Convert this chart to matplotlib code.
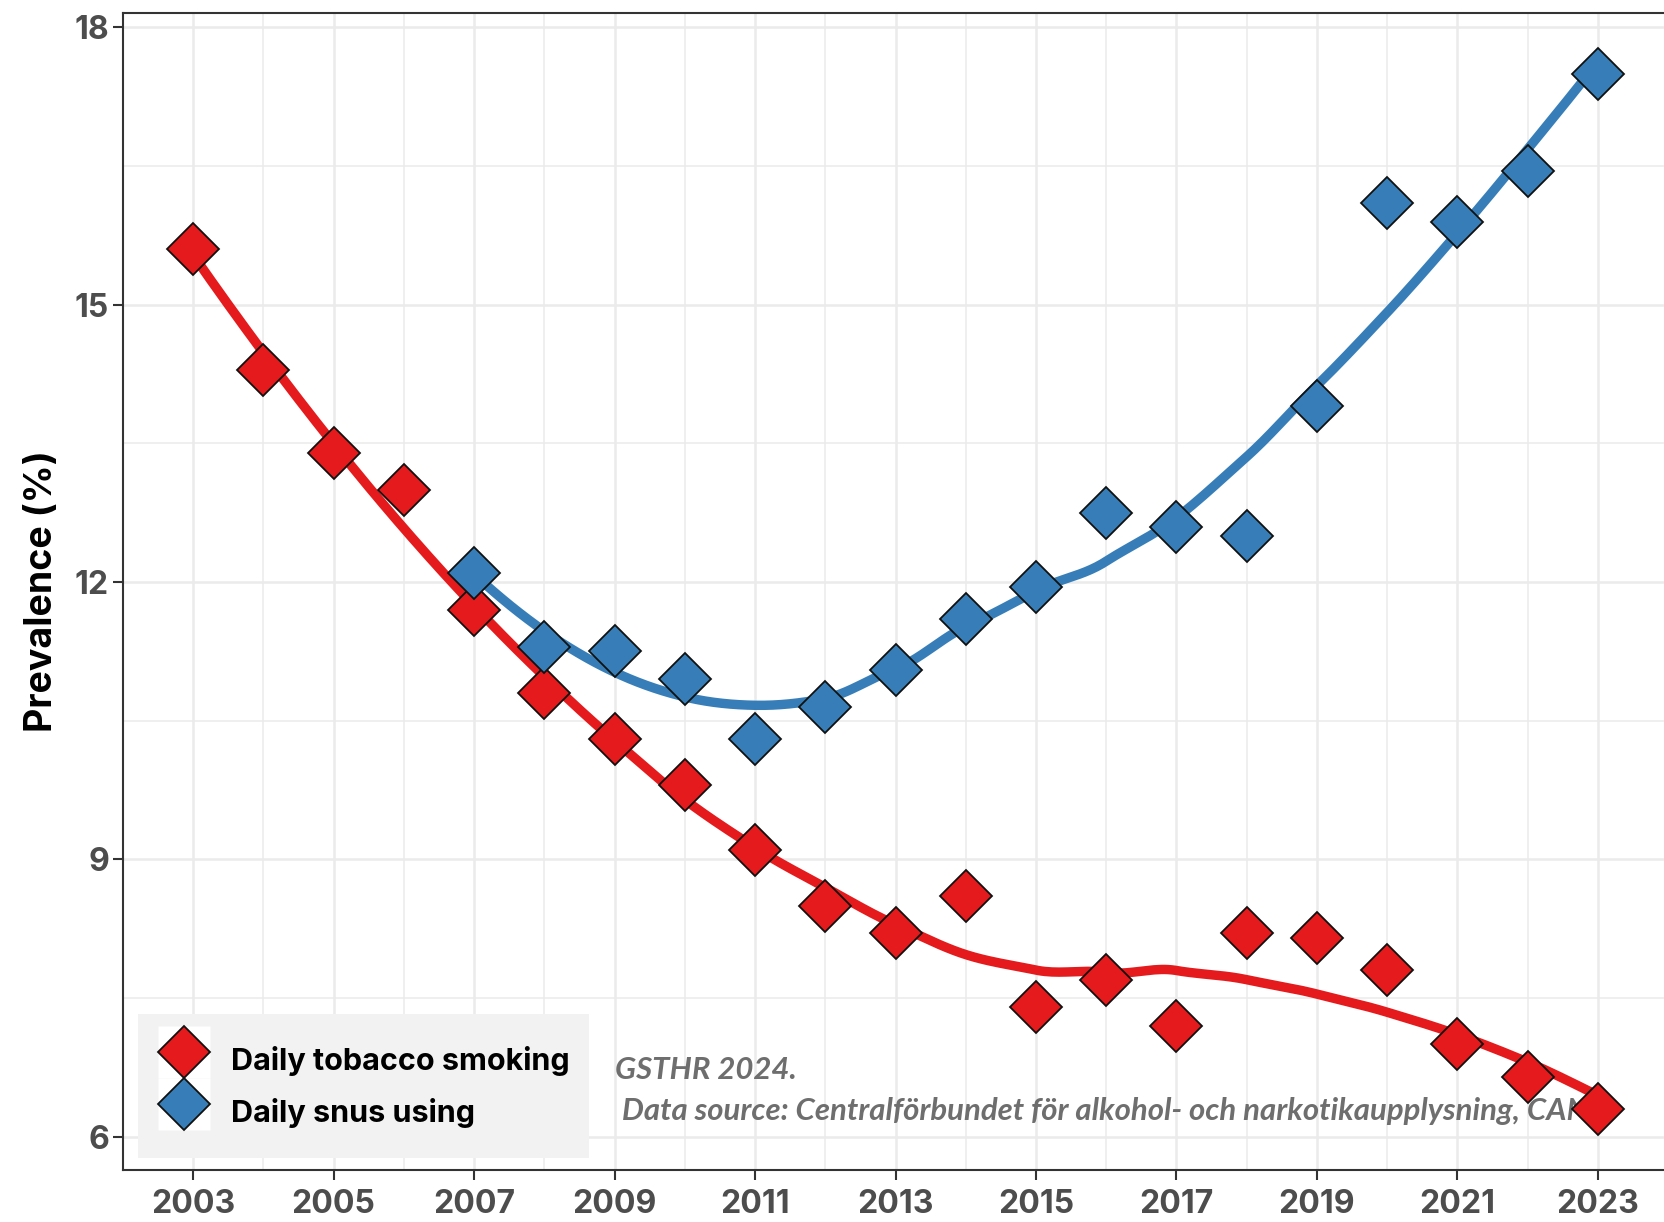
import numpy as np
import matplotlib
matplotlib.use("Agg")
import matplotlib.pyplot as plt
from matplotlib.lines import Line2D
from matplotlib.legend_handler import HandlerTuple

# Survey years and prevalence (%)
years_smoking = [2003, 2004, 2005, 2006, 2007, 2008, 2009, 2010, 2011, 2012, 2013,
                 2014, 2015, 2016, 2017, 2018, 2019, 2020, 2021, 2022, 2023]
smoking = [15.6, 14.3, 13.4, 13.0, 11.7, 10.8, 10.3, 9.8, 9.1, 8.5, 8.2,
           8.6, 7.4, 7.7, 7.2, 8.2, 8.15, 7.8, 7.0, 6.65, 6.3]

years_snus = [2007, 2008, 2009, 2010, 2011, 2012, 2013, 2014, 2015, 2016, 2017,
              2018, 2019, 2020, 2021, 2022, 2023]
snus = [12.1, 11.3, 11.25, 10.95, 10.3, 10.65, 11.05, 11.6, 11.95, 12.75, 12.6,
        12.5, 13.9, 16.1, 15.9, 16.45, 17.5]

series_labels = ["Daily tobacco smoking", "Daily snus using"]
series_colors = ["#E41A1C", "#377EB8"]
x_breaks = list(range(2003, 2024, 2))
y_breaks = [6, 9, 12, 15, 18]
caption = "GSTHR 2024.\n Data source: Centralförbundet för alkohol- och narkotikaupplysning, CAN"


def local_fit(x, y, x0, q):
    """Tricube-weighted local quadratic fit at x0: returns (value, slope)."""
    d = np.abs(x - x0)
    h = np.sort(d)[q - 1]
    u = np.clip(d / h, 0, 1)
    w = (1 - u ** 3) ** 3
    X = np.column_stack([np.ones(len(x)), x - x0, (x - x0) ** 2])
    sw = np.sqrt(w)
    beta, *_ = np.linalg.lstsq(X * sw[:, None], y * sw, rcond=None)
    return beta[0], beta[1]


def loess(x, y, x_new, span=0.75):
    """Loess smooth: local fits at vertices, joined by cubic Hermite pieces."""
    x = np.asarray(x, float)
    y = np.asarray(y, float)
    q = int(np.floor(len(x) * span))
    verts = np.unique(x)
    fits = np.array([local_fit(x, y, v, q) for v in verts])
    vals, slopes = fits[:, 0], fits[:, 1]
    out = np.empty(len(x_new))
    for i, xn in enumerate(x_new):
        k = min(max(np.searchsorted(verts, xn) - 1, 0), len(verts) - 2)
        x0, x1 = verts[k], verts[k + 1]
        hh = x1 - x0
        t = (xn - x0) / hh
        h00 = 2 * t ** 3 - 3 * t ** 2 + 1
        h10 = t ** 3 - 2 * t ** 2 + t
        h01 = -2 * t ** 3 + 3 * t ** 2
        h11 = t ** 3 - t ** 2
        out[i] = (h00 * vals[k] + h10 * hh * slopes[k]
                  + h01 * vals[k + 1] + h11 * hh * slopes[k + 1])
    return out


SANS = ["Inter", "DejaVu Sans"]
plt.rcParams["font.family"] = SANS

fig = plt.figure(figsize=(16.64, 12.22), dpi=100)
ax = fig.add_axes([123 / 1664, 52 / 1222, 1545 / 1664, 1157.3 / 1222])

# grid: major and minor lines
for xv in range(2002, 2025):
    ax.axvline(xv, color="#EBEBEB", lw=1.8 if xv % 2 == 1 else 1.1, zorder=0)
for yv in np.arange(6, 18.01, 1.5):
    ax.axhline(yv, color="#EBEBEB", lw=1.8 if yv % 3 == 0 else 1.1, zorder=0)

# caption text
ax.text(2009.0, 6.5, caption, ha="left", va="center", fontsize=22.4,
        family=["Lato", "DejaVu Sans"], fontstyle="italic", fontweight="bold",
        color="#6E6E6E", linespacing=1.6, zorder=1)

# smoothed trends
for xs, ys, col in [(years_smoking, smoking, series_colors[0]),
                    (years_snus, snus, series_colors[1])]:
    grid = np.linspace(min(xs), max(xs), 400)
    ax.plot(grid, loess(xs, ys, grid), color=col, lw=6.8,
            solid_capstyle="butt", zorder=2)

# points
for xs, ys, col in [(years_smoking, smoking, series_colors[0]),
                    (years_snus, snus, series_colors[1])]:
    ax.plot(xs, ys, ls="none", marker="D", ms=26.5, mfc=col, mec="#111111",
            mew=1.3, zorder=3)

ax.set_xlim(2002, 2024)
ax.set_ylim(5.64, 18.16)
ax.set_xticks(x_breaks)
ax.set_yticks(y_breaks)
ax.tick_params(axis="both", length=7, width=1.5, color="#333333",
               labelsize=23, labelcolor="#4D4D4D", pad=3)
ax.tick_params(axis="x", pad=6.5)
for lab in ax.get_xticklabels() + ax.get_yticklabels():
    lab.set_fontweight("bold")
for s in ax.spines.values():
    s.set_color("#333333")
    s.set_linewidth(1.5)

ax.set_ylabel("Prevalence (%)", fontsize=27, fontweight="bold", color="black",
              labelpad=10)

# legend keys: white key background with a diamond on top
handles = []
for c in series_colors:
    key_bg = Line2D([], [], ls="none", marker="s", ms=37, mfc="white", mec="none")
    key_pt = Line2D([], [], ls="none", marker="D", ms=26.5, mfc=c, mec="#111111",
                    mew=1.3)
    handles.append((key_bg, key_pt))
leg = ax.legend(handles, series_labels, loc="lower left",
                bbox_to_anchor=(0.0097, 0.0104), borderaxespad=0,
                handler_map={tuple: HandlerTuple(ndivide=1, pad=0)},
                frameon=True, fancybox=False, facecolor="#F2F2F2",
                edgecolor="none", framealpha=1, handletextpad=0.69,
                labelspacing=0.0, borderpad=0.65, handlelength=1.7,
                handleheight=2.24,
                prop={"family": SANS, "weight": "bold", "size": 22})
leg.set_zorder(4)

fig.savefig("out.png", dpi=100)
